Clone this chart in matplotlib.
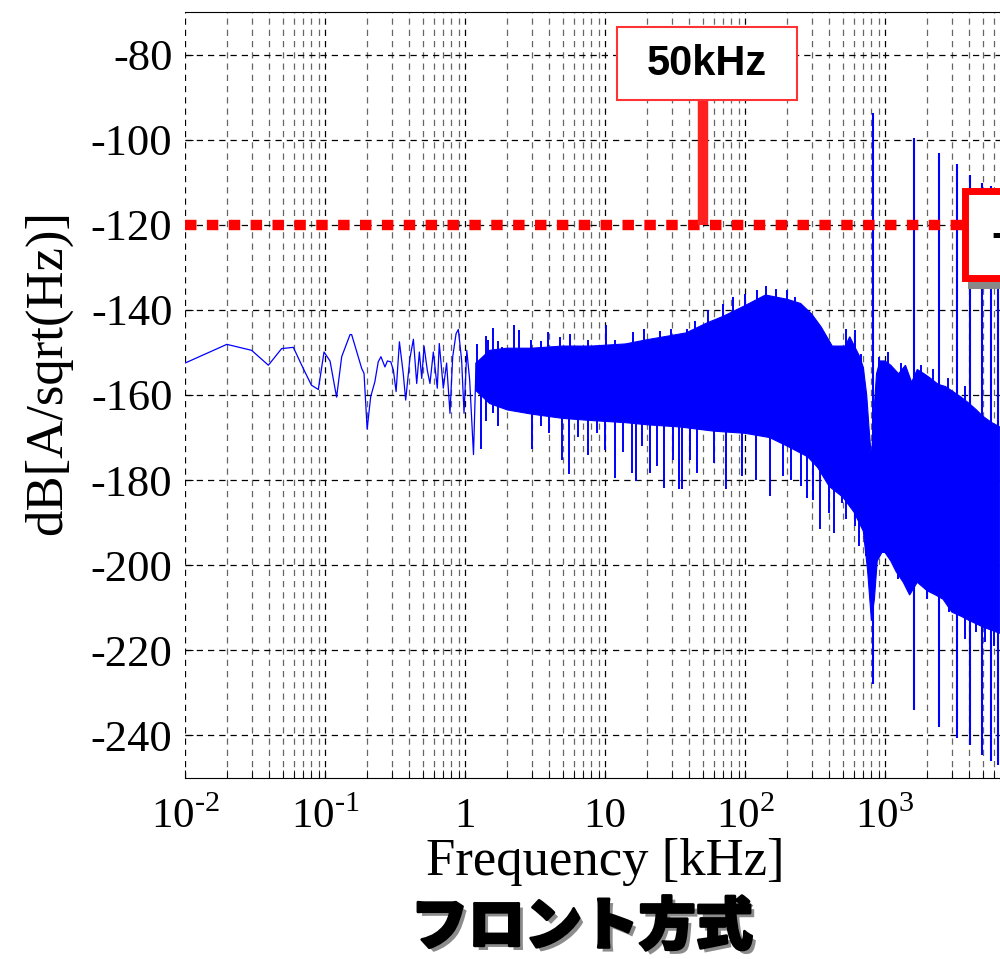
import numpy as np
import matplotlib
matplotlib.use('Agg')
import matplotlib.pyplot as plt
from matplotlib.patches import Rectangle
import matplotlib.patheffects as pe

plt.rcParams['font.family'] = ['Liberation Serif', 'DejaVu Serif']
plt.rcParams['mathtext.fontset'] = 'custom'
plt.rcParams['mathtext.rm'] = 'Liberation Serif'
plt.rcParams['axes.unicode_minus'] = False

# --- data (frequency in kHz, level in dB) ---
# sparse low-frequency part of the trace
low_f = [0.01, 0.0199, 0.0299, 0.0394, 0.049, 0.0594, 0.070, 0.080, 0.0896, 0.0984,
         0.1086, 0.121, 0.1316, 0.151, 0.155, 0.183, 0.190, 0.200, 0.212, 0.227,
         0.240, 0.251, 0.268, 0.279, 0.295, 0.308, 0.322, 0.340, 0.362, 0.377,
         0.404, 0.428, 0.452, 0.472, 0.491, 0.510, 0.538, 0.562, 0.594, 0.634,
         0.655, 0.70, 0.739, 0.781, 0.817, 0.863, 0.896, 0.946, 0.984, 1.03,
         1.08, 1.15, 1.2]
low_db = [-152.5, -148.1, -149.5, -153.0, -149.1, -148.8, -153.8, -157.7, -158.7, -149.9,
          -152.0, -160.5, -151.0, -145.8, -145.8, -153.8, -154.9, -168.0, -160.4, -156.9,
          -152.2, -151.0, -153.4, -152.0, -152.2, -154.2, -159.2, -147.5, -154.9, -161.2,
          -151.4, -146.9, -157.3, -149.9, -156.1, -148.5, -154.2, -157.3, -149.9, -158.4,
          -147.9, -158.4, -152.5, -164.3, -151.0, -145.6, -144.6, -151.8, -164.3, -149.5,
          -156.5, -174.0, -152.5]

# dense part: solid core of the band (upper / lower edge)
up_f = [1.2, 1.5, 2, 3, 5, 8, 14, 20, 30, 38, 54, 70, 100, 140, 200, 250, 300, 350, 420,
        520, 560, 660, 700, 740, 770, 800, 830, 870, 920, 1000, 1100, 1250, 1400, 1550,
        1700, 1900, 2100, 2400, 2700, 3000, 3500, 4000, 4500, 5000, 5800, 6600]
up_db = [-152.5, -149.5, -149, -149, -148.5, -148.5, -148, -147, -146, -145.4, -143,
         -141.5, -139, -136.5, -137.5, -138.5, -141, -144, -148.5, -148.5, -146.3, -151,
         -153.5, -160, -168, -175, -165, -155, -152, -152, -153, -155, -153, -157, -154,
         -155, -156, -157.5, -158, -159, -160.5, -162, -163.5, -165, -166.5, -167.5]
lo_f = [1.2, 1.5, 2, 3, 5, 8, 14, 20, 34, 60, 100, 150, 200, 280, 330, 400, 500, 600, 700,
        750, 800, 840, 880, 950, 1000, 1100, 1200, 1350, 1500, 1700, 2000, 2300, 2600,
        3000, 3500, 4000, 5000, 6600]
lo_db = [-159, -162, -163.5, -164.5, -165.5, -166, -166.5, -167, -167.5, -168.5, -169,
         -170, -172, -174.5, -177, -181.5, -184, -187.5, -192, -201, -213, -208, -199, -197,
         -197, -199, -201.5, -204, -207, -204, -206, -207, -208, -211, -212, -213, -214.5,
         -216]

# noise spikes sticking out of the band
spk_dn_f = [1.30, 1.41, 1.59, 1.73, 2.23, 3.0, 3.5, 3.96, 4.96, 5.5, 6.4, 7.6, 8.73, 10,
            11.8, 13.5, 15.6, 16.6, 18.3, 21.0, 23.4, 26.4, 30.6, 33.8, 35.2, 40.3, 45.2,
            60, 73.4, 94.6, 120, 151, 186, 213, 251, 279, 307, 346, 396, 433, 494, 529,
            606, 655, 727, 1230, 2000, 2880, 3700, 4500, 5200, 6000]
spk_dn_db = [-172.7, -166.2, -164.3, -167.4, -163.5, -172.7, -167.4, -169, -175.2, -178.5,
             -169.8, -174, -169, -172.9, -179.5, -173.3, -178.3, -180.3, -172.1, -178.3,
             -176.8, -181.8, -175.2, -182.2, -182.2, -175.2, -178.3, -176, -182.2, -179.1,
             -179.9, -183.8, -179.1, -179.9, -181.4, -184.2, -184.6, -191.6, -187.7, -192.4,
             -185.3, -189.2, -190.8, -195.5, -197.8, -203.3, -208, -211, -217.3, -215.7,
             -218, -218.9]
spk_up_f = [1.22, 1.46, 1.83, 2.44, 2.94, 3.94, 4.75, 5.6, 7.6, 10.1, 11.8, 15.8, 18.9,
            24.7, 29.6, 38.3, 44, 54.2, 69.5, 82, 100, 121, 141, 166, 200, 229, 262, 307,
            351, 433, 529, 606, 676, 905, 1050, 1300, 1800, 2200, 2800, 3700]
spk_up_db = [-147.9, -147.1, -148.7, -144.8, -147.1, -145.2, -146.4, -145.6, -147.1,
             -143.6, -147.1, -145.2, -144.4, -145, -144.4, -144.4, -142.5, -140.1, -138.6,
             -137, -136.2, -135.3, -134.3, -135, -135.4, -137, -141.7, -144, -147.1, -148.7,
             -144.4, -144.8, -150.3, -151, -150, -152.5, -153, -154, -156, -158]

# harmonic lines
harm_f = [818, 1618, 2443, 3250, 4050, 4955, 5690, 6460]
harm_top = [-93.7, -99.7, -103.1, -105.8, -108.3, -110.1, -111, -112]
harm_bot = [-227.8, -234.1, -238, -240.7, -242.3, -244.6, -246, -247]

ref_level = -120
marker_freq = 50

xticks = [1e-2, 1e-1, 1, 10, 1e2, 1e3, 1e4]
xticklabels = ['$10^{\u20102}$', '$10^{\u20101}$', '1', '10', '$10^{2}$', '$10^{3}$', '']
yticks = list(range(-240, -79, 20))

blue = '#0000ff'

fig = plt.figure(figsize=(10, 9.59), dpi=100)
ax = fig.add_axes([0.185, 181 / 959, 0.84, 766 / 959])
ax.set_xscale('log')
ax.set_xlim(1e-2, 1e4)
ax.set_ylim(-250, -70)

ax.plot(low_f, low_db, color=blue, lw=0.9, zorder=3)
ax.fill(np.concatenate([up_f, lo_f[::-1]]), np.concatenate([up_db, lo_db[::-1]]),
        color=blue, lw=0.8, zorder=3)
spk_dn_db = np.array(spk_dn_db)
spk_up_db = np.array(spk_up_db)
ax.vlines(spk_dn_f, spk_dn_db, spk_dn_db + 20, color=blue, lw=1.4, zorder=3)
ax.vlines(spk_up_f, spk_up_db - 10, spk_up_db, color=blue, lw=1.4, zorder=3)
ax.vlines(harm_f, harm_bot, harm_top, color=blue, lw=1.5, zorder=3)

# grid
ax.set_axisbelow(True)
ax.grid(True, which='major', axis='both', color='k', ls=(0, (5, 4)), lw=0.9)
ax.grid(True, which='minor', axis='x', color='#666666', ls=(0, (5, 4)), lw=0.9)

ax.set_xticks(xticks)
ax.set_xticklabels(xticklabels)
ax.set_yticks(yticks)
ax.tick_params(axis='x', which='both', direction='in', length=6, labelsize=31, pad=14)
ax.tick_params(axis='y', which='both', direction='in', length=6, labelsize=32, pad=9)
ax.spines['left'].set_visible(False)
ax.spines['right'].set_visible(False)

ax.set_xlabel('Frequency [kHz]', fontsize=38)
ax.xaxis.label.set_va('center')
ax.xaxis.set_label_coords(0.5, -0.1097)
ax.set_ylabel('dB[A/sqrt(Hz)]', fontsize=38)
ax.yaxis.label.set_va('center')
ax.yaxis.set_label_coords(-0.163, 0.53)

# -120 dB reference line and callouts
ax.plot([1e-2, 4000], [ref_level, ref_level], color='#ff0000', lw=7.5,
        ls=(0, (1.1, 1.0)), dash_capstyle='butt', zorder=5)
ax.plot([marker_freq, marker_freq], [ref_level, -91], color='#ff2020', lw=7.5,
        solid_capstyle='butt', zorder=5)
ax.add_patch(Rectangle((0.5143, 0.8851), 0.2143, 0.0953, transform=ax.transAxes,
                       facecolor='white', edgecolor='#ff3333', lw=1.5, zorder=6, clip_on=False))
ax.text(0.6214, 0.9327, '50kHz', transform=ax.transAxes, ha='center', va='center',
        fontsize=30, fontweight='bold', family='Liberation Sans', zorder=7)

ax.add_patch(Rectangle((0.932, 0.6384), 0.3, 0.1227, transform=ax.transAxes,
                       facecolor='#888888', lw=0, zorder=6, clip_on=False))
ax.add_patch(Rectangle((0.929, 0.6521), 0.3, 0.1136, transform=ax.transAxes,
                       facecolor='white', edgecolor='#ff0000', lw=5, zorder=7, clip_on=False))
ax.text(0.9595, 0.7076, '-120dB', transform=ax.transAxes, ha='left', va='center',
        fontsize=30, fontweight='bold', family='Liberation Sans', zorder=8)

fig.text(0.582, 1 - 928 / 959, 'フロント方式', family=['Noto Sans CJK JP', 'DejaVu Sans'],
         fontweight='black', fontsize=41, ha='center', va='center',
         path_effects=[pe.SimplePatchShadow(offset=(3, -3), shadow_rgbFace='0.5', alpha=0.9),
                       pe.Stroke(linewidth=2, foreground='k'), pe.Normal()])

fig.savefig('out.png', dpi=100)
